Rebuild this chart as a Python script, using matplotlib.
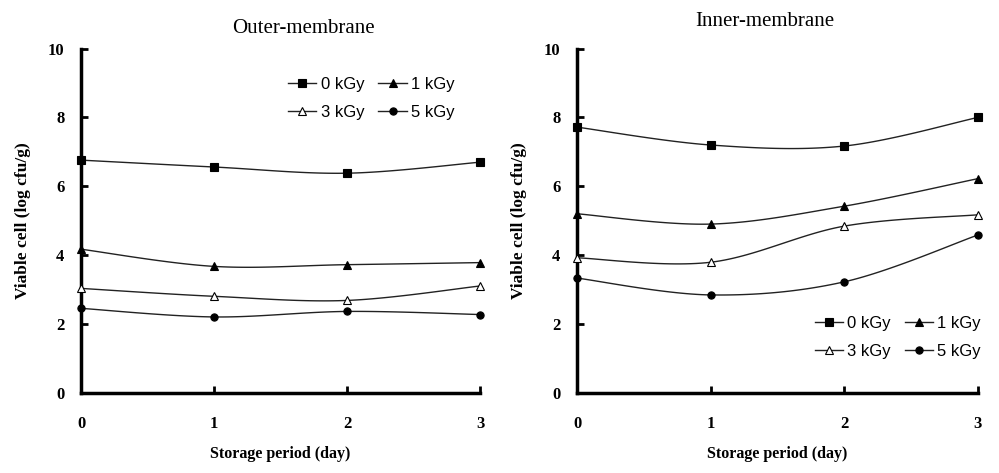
import matplotlib
matplotlib.use("Agg")
import numpy as np
import matplotlib.pyplot as plt
from matplotlib.lines import Line2D

days = [0, 1, 2, 3]
doses = ['0 kGy', '1 kGy', '3 kGy', '5 kGy']

outer_0 = [6.76, 6.56, 6.38, 6.70]
outer_1 = [4.17, 3.67, 3.72, 3.78]
outer_3 = [3.03, 2.80, 2.68, 3.10]
outer_5 = [2.45, 2.20, 2.36, 2.27]

inner_0 = [7.72, 7.20, 7.17, 8.00]
inner_1 = [5.20, 4.90, 5.42, 6.22]
inner_3 = [3.92, 3.79, 4.84, 5.17]
inner_5 = [3.33, 2.84, 3.22, 4.58]

markers = [('s', 'black', 5.2), ('^', 'black', 5.5), ('^', 'white', 5.5), ('o', 'black', 5.2)]


def smooth(x, y, n=30):
    # Excel-style smoothed line (Catmull-Rom bezier)
    p = np.column_stack([x, y]).astype(float)
    pts = np.vstack([p[0], p, p[-1]])
    out = []
    t = np.linspace(0, 1, n)[:, None]
    for i in range(1, len(pts) - 2):
        p0, p1, p2, p3 = pts[i - 1], pts[i], pts[i + 1], pts[i + 2]
        c1 = p1 + (p2 - p0) / 6
        c2 = p2 - (p3 - p1) / 6
        seg = ((1 - t) ** 3) * p1 + 3 * ((1 - t) ** 2) * t * c1 + 3 * (1 - t) * t ** 2 * c2 + t ** 3 * p2
        out.append(seg if i == 1 else seg[1:])
    out = np.vstack(out)
    return out[:, 0], out[:, 1]


def draw(ax, series, legend_anchor):
    for vals, (m, fc, ms) in zip(series, markers):
        sx, sy = smooth(days, vals)
        ax.plot(sx, sy, color='#222222', lw=1.0)
        ax.plot(days, vals, ls='none', marker=m, markersize=ms,
                markerfacecolor=fc, markeredgecolor='black', markeredgewidth=0.8,
                clip_on=False, zorder=3)
    ax.set_xlim(0, 3)
    ax.set_ylim(0, 10)
    ax.set_xticks(days)
    ax.set_yticks([0, 2, 4, 6, 8, 10])
    for s in ['top', 'right']:
        ax.spines[s].set_visible(False)
    for s in ['left', 'bottom']:
        ax.spines[s].set_linewidth(2.5)
    ax.tick_params(direction='in', length=5, width=2)
    ax.tick_params(axis='x', pad=17)
    ax.tick_params(axis='y', pad=12)
    for lab in ax.get_xticklabels() + ax.get_yticklabels():
        lab.set_fontfamily('Liberation Serif')
        lab.set_fontweight('bold')
        lab.set_fontsize(12)
    ax.set_xlabel('Storage period (day)', family='Liberation Serif', weight='bold',
                  fontsize=11.5, labelpad=10)
    ax.set_ylabel('Viable cell (log cfu/g)', family='Liberation Serif', weight='bold',
                  fontsize=12.5, labelpad=12)
    handles = [Line2D([], [], color='#222222', lw=1.0, marker=m, markersize=ms,
                      markerfacecolor=fc, markeredgecolor='black', markeredgewidth=0.8)
               for m, fc, ms in markers]
    # matplotlib fills legend columns first; reorder so rows read 0,1 / 3,5
    order = [0, 2, 1, 3]
    ax.legend([handles[i] for i in order], [doses[i] for i in order], ncol=2,
              frameon=False, loc='upper left', bbox_to_anchor=legend_anchor,
              borderaxespad=0, borderpad=0,
              prop={'family': 'Liberation Sans', 'size': 12},
              handlelength=1.7, handletextpad=0.25, columnspacing=0.85, labelspacing=0.78)


fig = plt.figure(figsize=(9.99, 4.73), dpi=100)
ax1 = fig.add_axes([0.0811, 0.170, 0.3994, 0.727])
ax2 = fig.add_axes([0.5776, 0.170, 0.401, 0.727])

draw(ax1, [outer_0, outer_1, outer_3, outer_5], (0.519, 0.918))
draw(ax2, [inner_0, inner_1, inner_3, inner_5], (0.593, 0.222))

fig.text(0.304, 0.94, 'Outer-membrane', family='Liberation Serif', fontsize=15,
         ha='center', va='center')
fig.text(0.766, 0.955, 'Inner-membrane', family='Liberation Serif', fontsize=15,
         ha='center', va='center')

fig.savefig('out.png', dpi=100)
